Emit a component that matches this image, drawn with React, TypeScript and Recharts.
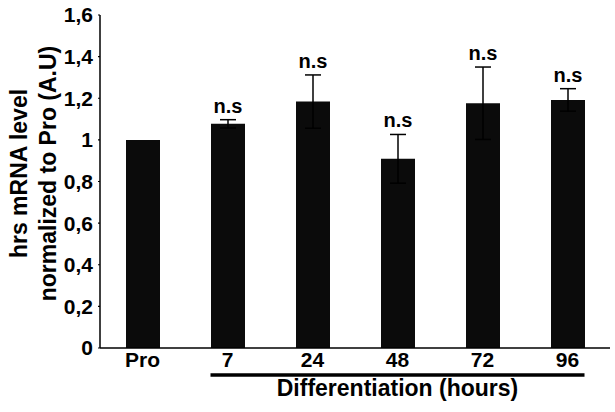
import { BarChart, Bar, XAxis, YAxis, ErrorBar, LabelList } from "recharts";

const groups = ["Pro", "7", "24", "48", "72", "96"];
const levels = [1, 1.077, 1.184, 0.909, 1.176, 1.192];
const errors = [null, 0.02, 0.128, 0.117, 0.174, 0.054];
const marks = ["", "n.s", "n.s", "n.s", "n.s", "n.s"];
const yTicks = [0, 0.2, 0.4, 0.6, 0.8, 1, 1.2, 1.4, 1.6];

const W = 615;
const H = 412;
const LEFT = 100;
const RIGHT = 5;
const BAR = 34;
const FONT = "'Liberation Sans', Arial, Helvetica, sans-serif";

const chartData = groups.map((g, i) => ({
  group: g,
  level: levels[i],
  err: errors[i],
  mark: marks[i],
}));

const band = (W - LEFT - RIGHT) / groups.length;

function GroupTick(props: any) {
  const { x, y, payload, index } = props;
  const last = groups.length - 1;
  let line = null;
  if (index > 0) {
    const x1 = index === 1 ? x - BAR / 2 : x - band / 2;
    const x2 = index === last ? x + BAR / 2 : x + band / 2;
    line = <line x1={x1} x2={x2} y1={y + 27} y2={y + 27} stroke="#000" strokeWidth={3.5} />;
  }
  return (
    <g>
      <text x={x} y={y + 19} textAnchor="middle" fontSize={21} fontWeight={700} fill="#000" fontFamily={FONT}>
        {payload.value}
      </text>
      {line}
    </g>
  );
}

function SigLabel(props: any) {
  const vb = props.viewBox ?? props;
  const { x, y, width, height } = vb;
  const i = props.index;
  const mark = marks[i];
  if (!mark) return null;
  const err = errors[i] ?? 0;
  const top = y - (err * height) / levels[i];
  return (
    <text x={x + width / 2} y={top - 7} textAnchor="middle" fontSize={20} fontWeight={700} fill="#000" fontFamily={FONT}>
      {mark}
    </text>
  );
}

function YLabel(props: any) {
  const vb = props.viewBox;
  const cy = vb.y + vb.height / 2 - 8;
  const x1 = vb.x + 27;
  const x2 = vb.x + 56;
  return (
    <g fontSize={23} fontWeight={700} fill="#000" fontFamily={FONT}>
      <text x={x1} y={cy} textAnchor="middle" transform={`rotate(-90 ${x1} ${cy})`}>
        hrs mRNA level
      </text>
      <text x={x2} y={cy} textAnchor="middle" transform={`rotate(-90 ${x2} ${cy})`}>
        normalized to Pro (A.U)
      </text>
    </g>
  );
}

function XLabel(props: any) {
  const vb = props.viewBox;
  const n = groups.length;
  const cx = vb.x + (vb.width * (1 + n)) / (2 * n);
  return (
    <text x={cx} y={vb.y + 48} textAnchor="middle" fontSize={23} fontWeight={700} fill="#000" fontFamily={FONT}>
      Differentiation (hours)
    </text>
  );
}

export default function App() {
  return (
    <div style={{ position: "absolute", left: 0, top: 0, width: W, height: H, background: "#fff" }}>
      <BarChart
        width={W}
        height={H}
        data={chartData}
        margin={{ top: 15, right: RIGHT, left: 0, bottom: 0 }}
        style={{ fontFamily: FONT }}
      >
        <XAxis
          dataKey="group"
          height={64}
          tickLine={false}
          tickSize={0}
          tickMargin={0}
          axisLine={{ stroke: "#000", strokeWidth: 1.5 }}
          tick={<GroupTick />}
          interval={0}
          label={{ content: XLabel }}
        />
        <YAxis
          width={LEFT}
          domain={[0, 1.6]}
          ticks={yTicks}
          interval={0}
          axisLine={{ stroke: "#000", strokeWidth: 1.5 }}
          tickLine={{ stroke: "#000", strokeWidth: 1.2 }}
          tickSize={2}
          tickMargin={5}
          tick={{ fontSize: 21, fontWeight: 700, fill: "#000", fontFamily: FONT }}
          tickFormatter={(v: number) => String(v).replace(".", ",")}
          label={{ content: YLabel }}
        />
        <Bar dataKey="level" fill="#0b0b0b" barSize={BAR} isAnimationActive={false}>
          <ErrorBar dataKey="err" width={8} stroke="#000" strokeWidth={1.5} direction="y" />
          <LabelList dataKey="mark" content={SigLabel} />
        </Bar>
      </BarChart>
    </div>
  );
}
